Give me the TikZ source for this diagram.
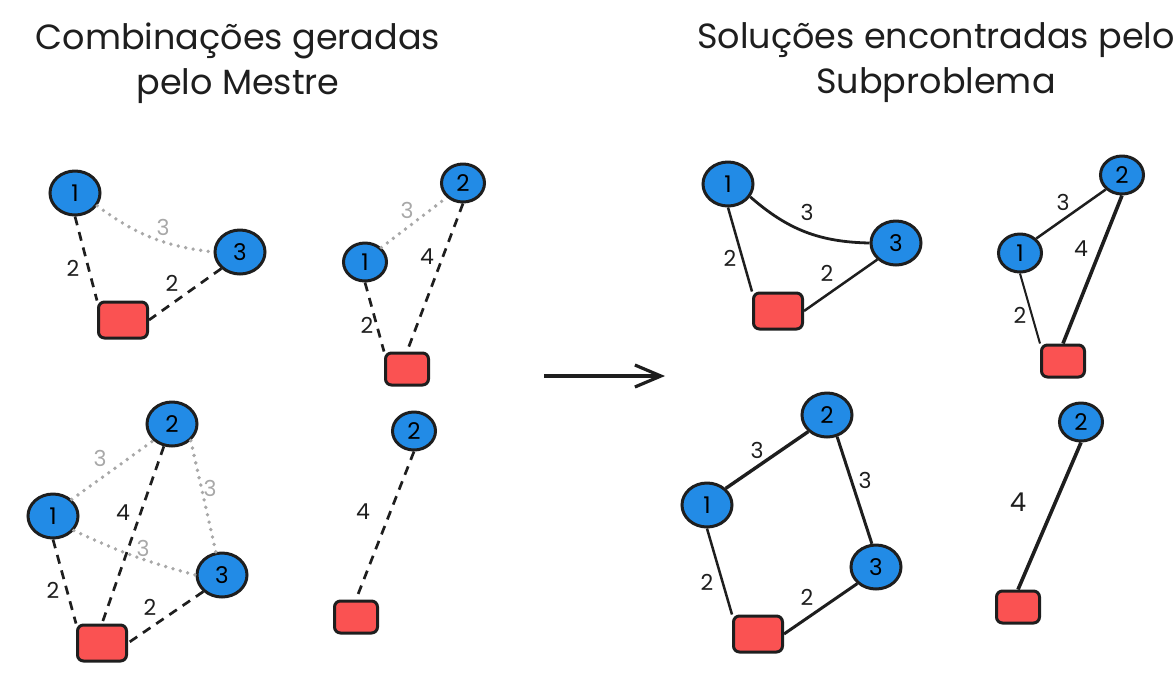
\documentclass[tikz,border=0pt]{standalone}
\usepackage{fontspec}
\setmainfont{Poppins}
\usetikzlibrary{arrows.meta,shapes.geometric}
\definecolor{nodeblue}{HTML}{228BE6}
\definecolor{depotred}{HTML}{FA5252}
\definecolor{ink}{HTML}{1E1E1E}
\definecolor{faded}{HTML}{A8A8A8}

\begin{document}
\begin{tikzpicture}[
  x=0.5pt, y=-0.5pt,
  cnode/.style={draw=ink,fill=nodeblue,ellipse,line width=1.5pt,inner sep=0pt,
    minimum width=25pt,minimum height=22pt,font=\fontsize{11.5}{11.5}\selectfont},
  cnodes/.style={cnode,minimum width=21.5pt,minimum height=19pt},
  dnode/.style={draw=ink,fill=depotred,rectangle,rounded corners=3pt,line width=1.5pt,
    minimum width=24.5pt,minimum height=18pt},
  dnodes/.style={dnode,minimum width=21.5pt,minimum height=16pt},
  wlabel/.style={font=\fontsize{11}{11}\selectfont,text=ink,inner sep=1pt},
  glabel/.style={wlabel,text=faded},
  cand/.style={draw=ink,line width=1.35pt,dash pattern=on 4.5pt off 3.5pt},
  unsel/.style={draw=faded,line width=1.9pt,line cap=round,dash pattern=on 0pt off 3.8pt},
  sol/.style={draw=ink,line width=1.25pt},
  title/.style={font=\fontsize{17.5}{22.5}\selectfont,align=center,text=ink}
]
  \useasboundingbox (0,0) rectangle (1175,677);

  % titles
  \node[title] (ltitle) at (238,63) {Combinações geradas\\pelo Mestre};
  \node[title] (rtitle) at (936,63) {Soluções encontradas pelo\\Subproblema};

  % master combination a
  \node[cnode] (a1) at (75,193) {1};
  \node[cnode] (a3) at (240,252) {3};
  \node[dnode] (ad) at (123,320) {};
  \draw[unsel] (a1.-30) edge[bend right=15] (a3.west);
  \draw[cand] (a1.south) edge (ad.north west);
  \draw[cand] (a3.south west) edge (ad.east);
  \node[glabel] (wa13) at (163,227) {3};
  \node[wlabel] (wa1d) at (73,268) {2};
  \node[wlabel] (wa3d) at (172,283) {2};

  % master combination b
  \node[cnodes] (b1) at (365,262) {1};
  \node[cnodes] (b2) at (463,183) {2};
  \node[dnodes] (bd) at (407,369) {};
  \draw[unsel] (b1.north east) edge (b2.south west);
  \draw[cand] (b1.south) edge (bd.north west);
  \draw[cand] (b2.south) edge (bd.north);
  \node[glabel] (wb12) at (407,210) {3};
  \node[wlabel] (wb2d) at (427,257) {4};
  \node[wlabel] (wb1d) at (367,325) {2};

  % master combination c
  \node[cnode] (c1) at (53,516) {1};
  \node[cnode] (c2) at (172,424) {2};
  \node[cnode] (c3) at (222,575) {3};
  \node[dnode] (cd) at (102,643) {};
  \draw[unsel] (c1.north east) edge (c2.south west);
  \draw[unsel] (c2.south east) edge (c3.105);
  \draw[unsel] (c1.-35) edge[bend right=5] (c3.west);
  \draw[cand] (c1.south) edge (cd.north west);
  \draw[cand] (c2.250) edge (cd.north);
  \draw[cand] (c3.south west) edge (cd.east);
  \node[glabel] (wc12) at (100,458) {3};
  \node[glabel] (wc23) at (210,488) {3};
  \node[glabel] (wc13) at (143,548) {3};
  \node[wlabel] (wc2d) at (123,513) {4};
  \node[wlabel] (wc1d) at (53,590) {2};
  \node[wlabel] (wc3d) at (150,607) {2};

  % master combination d
  \node[cnodes] (d2) at (414,431) {2};
  \node[dnodes] (dd) at (356,617) {};
  \draw[cand] (d2.south) edge (dd.north);
  \node[wlabel] (wd2d) at (363,512) {4};

  % arrow
  \coordinate (arrs) at (544,376);
  \coordinate (arre) at (665,376);
  \draw[-{Straight Barb[length=13pt,width=11pt]},line width=1.6pt,ink] (arrs) -- (arre);

  % subproblem solution e
  \node[cnode] (e1) at (728,184) {1};
  \node[cnode] (e3) at (896,243) {3};
  \node[dnode] (ed) at (778,311) {};
  \draw[sol,line width=1.4pt] (e1.-30) edge[bend right=20] (e3.west);
  \draw[sol] (e1.south) edge (ed.north west);
  \draw[sol] (e3.south west) edge (ed.east);
  \node[wlabel] (we13) at (807,212) {3};
  \node[wlabel] (we1d) at (730,258) {2};
  \node[wlabel] (we3d) at (827,273) {2};

  % subproblem solution f
  \node[cnodes] (f1) at (1020,253) {1};
  \node[cnodes] (f2) at (1122,175) {2};
  \node[dnodes] (fd) at (1063,361) {};
  \draw[sol] (f1.north east) edge (f2.south west);
  \draw[sol,line width=1pt] (f1.south) edge (fd.north west);
  \draw[sol,line width=1.8pt] (f2.south) edge (fd.north);
  \node[wlabel] (wf12) at (1063,202) {3};
  \node[wlabel] (wf2d) at (1081,249) {4};
  \node[wlabel] (wf1d) at (1020,315) {2};

  % subproblem solution g
  \node[cnode] (g1) at (707,505) {1};
  \node[cnode] (g2) at (827,415) {2};
  \node[cnode] (g3) at (876,567) {3};
  \node[dnode] (gd) at (758,634) {};
  \draw[sol,line width=1.7pt] (g1.north east) edge (g2.south west);
  \draw[sol,line width=1.5pt] (g2.-65) edge (g3.100);
  \draw[sol] (g1.south) edge (gd.north west);
  \draw[sol,line width=1.5pt] (g3.south west) edge (gd.east);
  \node[wlabel] (wg12) at (757,450) {3};
  \node[wlabel] (wg23) at (865,480) {3};
  \node[wlabel] (wg1d) at (707,582) {2};
  \node[wlabel] (wg3d) at (807,597) {2};

  % subproblem solution h
  \node[cnodes] (h2) at (1081,422) {2};
  \node[dnodes] (hd) at (1018,607) {};
  \draw[sol,line width=1.8pt] (h2.south) edge (hd.north);
  \node[wlabel,font=\fontsize{13}{13}\selectfont] (wh2d) at (1018,502) {4};

\end{tikzpicture}
\end{document}
